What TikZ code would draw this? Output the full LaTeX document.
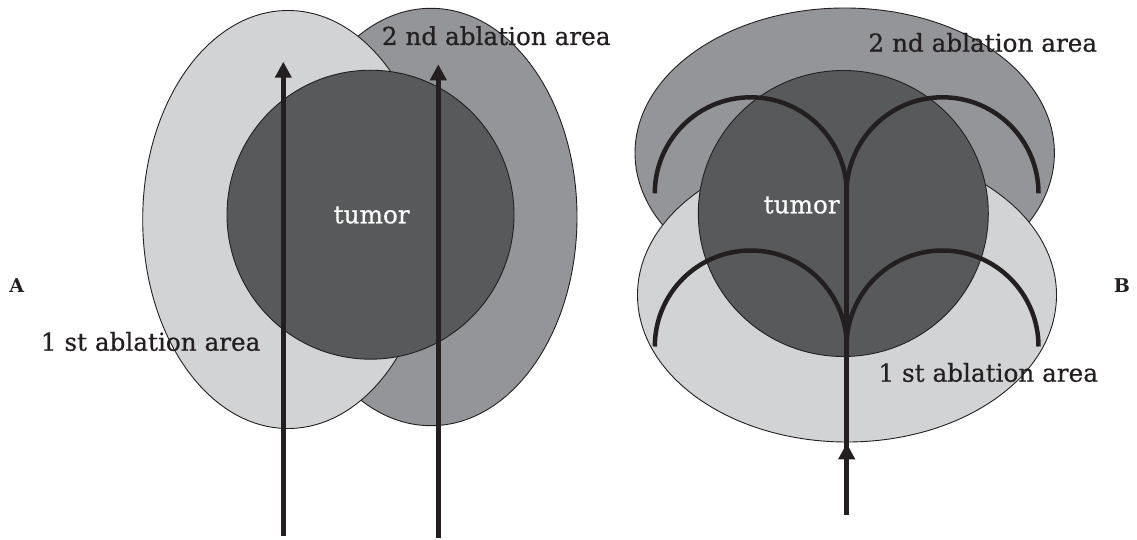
\documentclass[tikz,border=0pt]{standalone}
\usepackage{fontspec}
\setmainfont{DejaVu Serif}
\newfontfamily\lblfont{DejaVu Serif}[FakeBold=0.6]
\usetikzlibrary{arrows.meta}
\definecolor{inkc}{HTML}{231F20}
\definecolor{firstc}{HTML}{D1D3D4}
\definecolor{secondc}{HTML}{939598}
\definecolor{tumorc}{HTML}{58595B}
\tikzset{
  zone/.style={draw=inkc, line width=0.9pt},
  needle/.style={draw=inkc, line width=4.6pt},
  needlearrow/.style={draw=inkc, line width=4.6pt, -{Triangle[length=16pt,width=16pt]}},
  sweep/.style={draw=inkc, line width=4.5pt},
  lbl/.style={inner sep=0pt, text=inkc, font=\lblfont\fontsize{24.7}{26}\selectfont},
  tlbl/.style={inner sep=0pt, text=white, font=\lblfont\fontsize{24.7}{26}\selectfont},
  panel/.style={inner sep=0pt, text=inkc, font=\fontsize{19}{20}\selectfont\bfseries}
}
\begin{document}
\begin{tikzpicture}[x=1pt,y=1pt]
\useasboundingbox (0,0) rectangle (1137,539);
% ---------- Panel A ----------
\fill[secondc] (431,322) ellipse [x radius=146pt, y radius=208.7pt];
\draw[zone] (431,322) ellipse [x radius=146pt, y radius=208.7pt];
\fill[firstc] (288,319.5) ellipse [x radius=145.3pt, y radius=209pt];
\draw[zone] (288,319.5) ellipse [x radius=145.3pt, y radius=209pt];
\fill[tumorc] (370.5,324.3) ellipse [x radius=143.5pt, y radius=144.5pt];
\draw[zone] (370.5,324.3) ellipse [x radius=143.5pt, y radius=144.5pt];
\coordinate (a1s) at (283.3,3);
\coordinate (a1e) at (283.3,477.3);
\coordinate (a2s) at (438.3,1);
\coordinate (a2e) at (438.3,474.7);
\draw[needlearrow] (a1s) -- (a1e);
\draw[needlearrow] (a2s) -- (a2e);
\node[lbl, anchor=base west] (a2nd) at (381.7,494) {2 nd ablation area};
\node[lbl, anchor=base west] (a1st) at (40.7,188.3) {1 st ablation area};
\node[tlbl, anchor=base] (atum) at (371.7,315.7) {tumor};
\node[panel] (pa) at (16.7,253.5) {A};
% ---------- Panel B ----------
\fill[secondc] (844.7,386) ellipse [x radius=209.7pt, y radius=145pt];
\draw[zone] (844.7,386) ellipse [x radius=209.7pt, y radius=145pt];
\fill[firstc] (847,244) ellipse [x radius=209.5pt, y radius=147pt];
\draw[zone] (847,244) ellipse [x radius=209.5pt, y radius=147pt];
\fill[tumorc] (843.3,325.5) ellipse [x radius=145pt, y radius=143pt];
\draw[zone] (843.3,325.5) ellipse [x radius=145pt, y radius=143pt];
% sweeps
\draw[sweep] (654.8,345.7) arc [start angle=180, end angle=0, radius=96pt];
\draw[sweep] (846.5,345.7) arc [start angle=180, end angle=0, radius=96pt];
\draw[sweep] (654.8,192.5) arc [start angle=180, end angle=0, radius=96pt];
\draw[sweep] (846.5,192.5) arc [start angle=180, end angle=0, radius=96pt];
\coordinate (bs) at (846.7,24);
\coordinate (btip) at (846.7,95.7);
\coordinate (btop) at (846.7,359);
\draw[needle] (bs) -- (btop);
\draw[needlearrow] (bs) -- (btip);
\node[lbl, anchor=base west] (b2nd) at (868.3,487.3) {2 nd ablation area};
\node[lbl, anchor=base west] (b1st) at (878.3,157.3) {1 st ablation area};
\node[tlbl, anchor=base] (btum) at (801.7,325.7) {tumor};
\node[panel] (pb) at (1122,253) {B};
\end{tikzpicture}
\end{document}
